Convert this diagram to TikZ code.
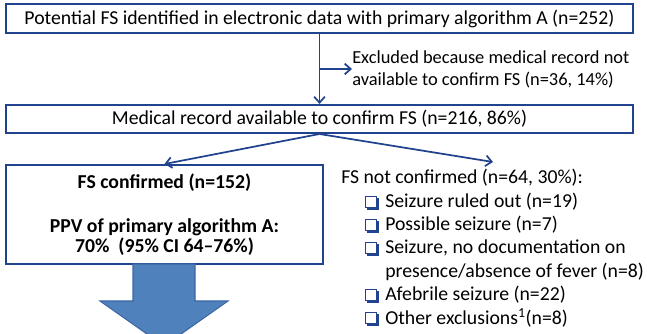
\documentclass[tikz,border=0pt]{standalone}
\usepackage{fontspec}
\setmainfont{Carlito}
\usepackage{tikz}
\usetikzlibrary{arrows.meta,positioning,shadows}
\definecolor{boxblue}{RGB}{33,66,140}
\definecolor{bigfill}{RGB}{79,129,189}
\definecolor{bigedge}{RGB}{62,104,164}

\begin{document}
\begin{tikzpicture}[x=0.75pt, y=-0.75pt,
    font=\fontsize{14.8}{17.5}\selectfont,
    flowbox/.style={draw=boxblue, line width=1.5pt, fill=white, inner sep=0pt},
    link/.style={draw=boxblue, line width=1.3pt, -{Straight Barb[length=4.5pt,width=8pt]}},
    txt/.style={anchor=west, inner sep=0pt},
    chkbox/.style={draw=boxblue, line width=0.8pt, fill=white, minimum size=8.5pt, inner sep=0pt,
      drop shadow={shadow xshift=1.4pt, shadow yshift=-1.4pt, fill=boxblue, opacity=1}}]
    \useasboundingbox (0,0) rectangle (647,334);
    \clip (0,0) rectangle (647,334);
    % boxes
    \node[flowbox, minimum width=470.25pt, minimum height=21.75pt] (top) at (319.5,18.5)
      {Potential FS identified in electronic data with primary algorithm A (n=252)};
    \node[flowbox, minimum width=470.25pt, minimum height=21pt] (mid) at (319.5,119)
      {Medical record available to confirm FS (n=216, 86\%)};
    \node[flowbox, minimum width=237.75pt, minimum height=74.25pt, align=center, font=\fontsize{14.8}{15}\selectfont\bfseries] (conf) at (164.5,214.5)
      {FS confirmed (n=152)\\[18pt] PPV of primary algorithm A:\\ 70\%~~(95\% CI 64--76\%)};
    \node[txt, align=left, font=\fontsize{13.8}{16.5}\selectfont] (excl) at (352,69)
      {Excluded because medical record not\\ available to confirm FS (n=36, 14\%)};
    \node[txt] (nc) at (341,178) {FS not confirmed (n=64, 30\%):};
    \foreach \y/\t [count=\i] in {202/Seizure ruled out (n=19), 225/Possible seizure (n=7),
        {248/Seizure, no documentation on}, 295/Afebrile seizure (n=22),
        318/Other exclusions\textsuperscript{1}(n=8)} {
      \node[chkbox, anchor=west] (box\i) at (365,\y) {};
      \node[txt] (item\i) at (385,\y) {\t};
    }
    \node[txt] (item3b) at (385,272) {presence/absence of fever (n=8)};
    % connectors
    \coordinate (branch) at (320,69);
    \coordinate (ncin) at (493,162);
    \draw[link] (top) -- (mid);
    \draw[link] (branch) -- (excl.west);
    \draw[link] (mid.south) -- (conf.north);
    \draw[link] (mid.south) -- (ncin);
    % big arrow down
    \filldraw[fill=bigfill, draw=bigedge, line width=0.8pt] (133,264) -- (195,264) -- (195,301)
      -- (228,301) -- (164,346) -- (100,301) -- (133,301) -- cycle;
\end{tikzpicture}
\end{document}
